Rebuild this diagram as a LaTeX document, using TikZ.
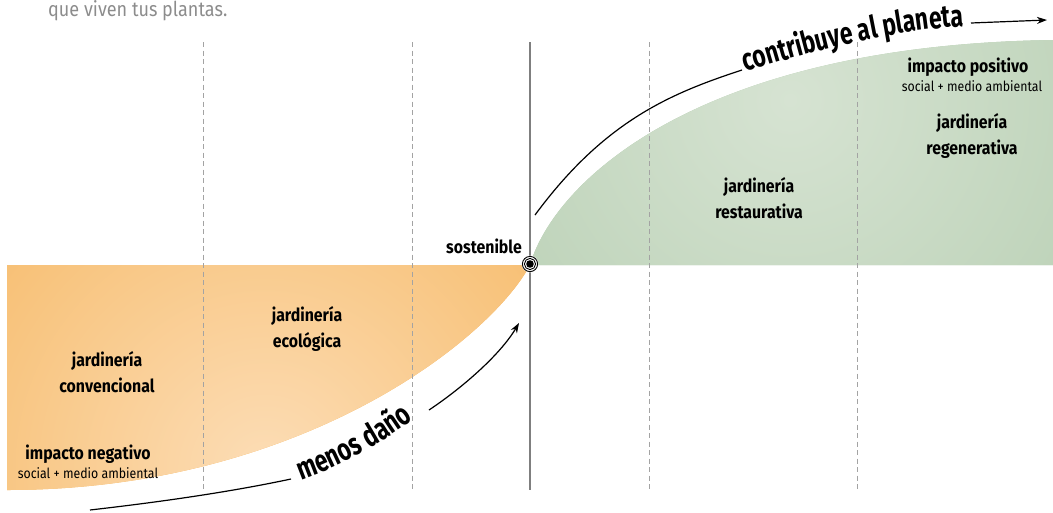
\documentclass[tikz,border=0pt]{standalone}
\usepackage{fontspec}
\setmainfont{Fira Sans}[FakeStretch=0.88]
\newfontfamily\arrowfam{Fira Sans}[FakeStretch=0.74]
\usetikzlibrary{arrows.meta,decorations.text}

\definecolor{orangeA}{HTML}{F5B256}
\definecolor{orangeL}{HTML}{FCDDB6}
\definecolor{greenA}{HTML}{ADC8A8}
\definecolor{greenL}{HTML}{D6E3D2}
\definecolor{dashgray}{HTML}{A3A3A3}
\definecolor{axisgray}{HTML}{7F7F7F}
\definecolor{notegray}{HTML}{8C8C8C}

\newcommand\lblfont{\fontsize{18}{26}\selectfont\bfseries}
\newcommand\subfont{\fontsize{14}{16}\selectfont}
\newcommand\arrowfont{\arrowfam\fontsize{31}{33}\selectfont\bfseries}

\begin{document}
\begin{tikzpicture}[x=1pt,y=-1pt,
  dashline/.style={dashgray, line width=0.9pt, dash pattern=on 5pt off 3.5pt},
  axisline/.style={axisgray, line width=1.8pt},
  arrowline/.style={black, line width=1.2pt},
  tipped/.style={arrowline, -{Stealth[length=10pt,width=7pt]}},
  lbl/.style={font=\lblfont, align=center, inner sep=0pt},
  sublbl/.style={font=\subfont, inner sep=0pt}]
\useasboundingbox (0,0) rectangle (1053,512);

% harmful side: orange area below the axis
\begin{scope}
  \clip (7,265) -- (530,265) .. controls (490,340) and (300,490) .. (7,490) -- cycle;
  \fill[orangeA] (0,250) rectangle (540,500);
  \shade[inner color=orangeL, outer color=orangeA] (265,470) circle (500);
\end{scope}

% beneficial side: green area above the axis
\begin{scope}
  \clip (530,265) .. controls (555,180) and (700,45) .. (1053,40) -- (1053,265) -- cycle;
  \fill[greenA] (520,30) rectangle (1060,270);
  \shade[inner color=greenL, outer color=greenA] (790,100) circle (560);
\end{scope}

% stage separators
\foreach \xx in {203,412,649,857}
  \draw[dashline] (\xx,42) -- (\xx,490);
\draw[axisline] (530,42) -- (530,490);

% heading fragment
\node[anchor=base west, font=\fontsize{20.5}{24}\selectfont, text=notegray, inner sep=0pt] (note) at (48,16) {que viven tus plantas.};

% stage labels
\node[lbl] (conv) at (107,372) {jardinería\\convencional};
\node[lbl] (eco) at (307,329) {jardinería\\ecológica};
\node[lbl] (rest) at (759,198) {jardinería\\restaurativa};
\node[lbl] (regen) at (972,136) {jardinería\\regenerativa};

\node[lbl, anchor=base] (neg) at (88,459) {impacto negativo};
\node[sublbl, anchor=base] (negsub) at (88,478) {social + medio ambiental};
\node[lbl, anchor=base] (pos) at (968,72) {impacto positivo};
\node[sublbl, anchor=base] (possub) at (972,91) {social + medio ambiental};

\node[lbl, anchor=base east] (sost) at (522,253) {sostenible};

% "menos daño" arrow
\coordinate (lowA) at (90,510);
\coordinate (lowB) at (291,479);
\coordinate (lowC) at (429,410);
\coordinate (lowD) at (519,323);
\draw[arrowline] (lowA) .. controls (160,502) and (230,492) .. (lowB);
\path[decorate, decoration={text along path, text={|\arrowfont|menos daño}}]
  (301,480) .. controls (340,466) and (385,443) .. (426,410);
\draw[tipped] (lowC) .. controls (462,388) and (500,355) .. (lowD);

% "contribuye al planeta" arrow
\coordinate (upA) at (535,215);
\coordinate (upB) at (742,70);
\coordinate (upC) at (971,23);
\coordinate (upD) at (1047,20);
\draw[arrowline] (upA) .. controls (605,120) and (672,93) .. (upB);
\path[decorate, decoration={text along path, text={|\arrowfont|contribuye al planeta}}]
  (745,72) .. controls (810,52) and (890,30) .. (968,26);
\draw[tipped] (upC) -- (upD);

% turning point
\coordinate (turn) at (530,264);
\fill[white] (turn) circle (8.4);
\draw[black, line width=0.9pt] (turn) circle (7.6);
\draw[black, line width=0.9pt] (turn) circle (5.6);
\fill[black] (turn) circle (3.8);
\end{tikzpicture}
\end{document}
